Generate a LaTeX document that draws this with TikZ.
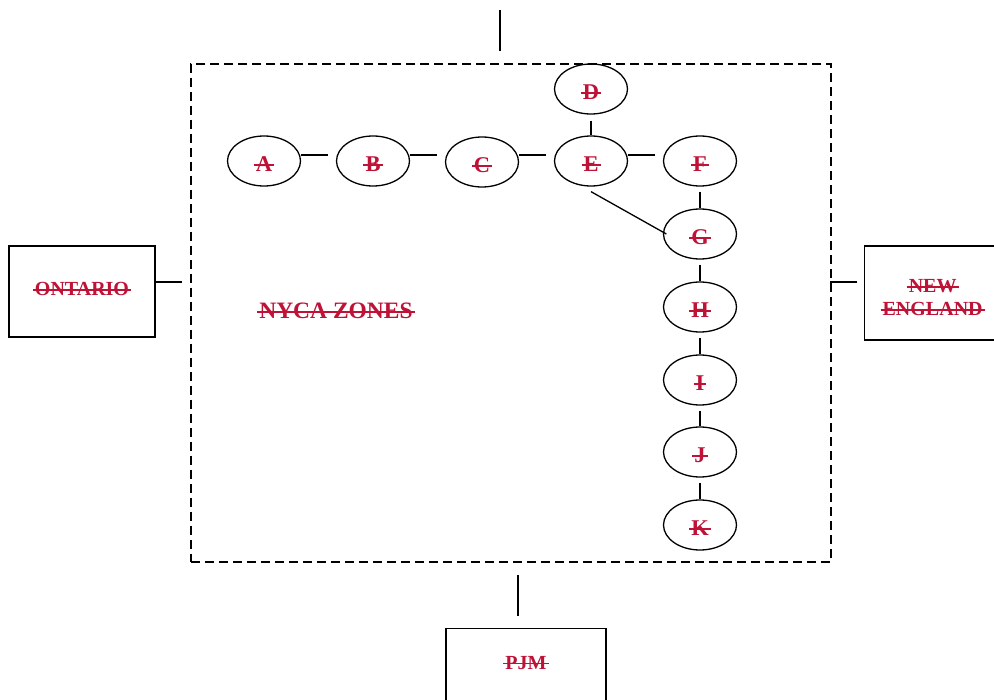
\documentclass[tikz,border=0pt]{standalone}
\usepackage{fontspec}
\setmainfont{Liberation Serif}
\usetikzlibrary{shapes.geometric}
\definecolor{zred}{RGB}{190,18,55}
\newcommand\zs[1]{{\setbox0=\hbox{#1}\hbox{\rlap{\kern-2pt\rule[0.26em]{\dimexpr\wd0+4pt\relax}{1.4pt}}\box0}}}
\tikzset{
  zone/.style={ellipse, draw, line width=1.3pt, minimum width=73pt, minimum height=50pt, inner sep=0pt,
    text height=21pt, text depth=0pt,
    font=\fontsize{22.5}{24}\selectfont\bfseries, text=zred},
  region/.style={rectangle, draw, line width=1.3pt, inner sep=0pt, font=\fontsize{20}{24}\selectfont\bfseries, text=zred, align=center},
  link/.style={line width=1.3pt},
}
\begin{document}
\begin{tikzpicture}[x=1pt,y=-1pt]
\useasboundingbox (0,0) rectangle (994,700);
\node[draw, dash pattern=on 9pt off 5pt, line width=1.3pt, minimum width=640pt, minimum height=498pt, inner sep=0pt] (nyca) at (511,313) {};
\node[font=\fontsize{23.5}{24}\selectfont\bfseries, text=zred] (label) at (336,311) {\zs{NYCA ZONES}};
% zones
\node[zone] (A) at (264,161) {\zs{A}};
\node[zone] (B) at (373,161) {\zs{B}};
\node[zone] (C) at (482,162) {\zs{C}};
\node[zone] (D) at (591,89) {\zs{D}};
\node[zone] (E) at (591,161) {\zs{E}};
\node[zone] (F) at (700,161) {\zs{F}};
\node[zone] (G) at (700,234) {\zs{G}};
\node[zone] (H) at (700,307) {\zs{H}};
\node[zone] (I) at (700,380) {\zs{I}};
\node[zone] (J) at (700,452) {\zs{J}};
\node[zone] (K) at (700,525) {\zs{K}};
% neighbours
\node[region, minimum width=146pt, minimum height=91pt, text height=13pt, text depth=4pt] (ont) at (82,291.5) {\zs{ONTARIO}};
\node[region, minimum width=136pt, minimum height=94pt, anchor=west, text height=46pt, text depth=0pt] (ne) at (864,293) {\zs{NEW}\\[-1pt]\zs{ENGLAND}};
\node[region, minimum width=160pt, minimum height=100pt, anchor=north] (pjm) at (526,628) {};
\node[font=\fontsize{20}{24}\selectfont\bfseries, text=zred] (pjmlabel) at (526,663) {\zs{PJM}};
\coordinate (top) at (500,10);
% connectors
\draw[link] ([yshift=6pt]A.east) -- ([yshift=6pt,xshift=-7.5pt]B.west);
\draw[link] ([yshift=6pt]B.east) -- ([yshift=7pt,xshift=-7.5pt]C.west);
\draw[link] ([yshift=7pt]C.east) -- ([yshift=6pt,xshift=-7.5pt]E.west);
\draw[link] ([yshift=6pt]E.east) -- ([yshift=6pt,xshift=-7.5pt]F.west);
\draw[link] ([yshift=-6pt]D.south) -- (E.north);
\draw[link] ([yshift=-5pt]E.south) -- ([xshift=3.5pt]G.west);
\draw[link] ([yshift=-5pt]F.south) -- (G.north);
\draw[link] ([yshift=-5pt]G.south) -- (H.north);
\draw[link] ([yshift=-5pt]H.south) -- (I.north);
\draw[link] ([yshift=-5pt]I.south) -- (J.north);
\draw[link] ([yshift=-5pt]J.south) -- (K.north);
\draw[link] ([yshift=9.5pt]ont.east) -- ([yshift=9.5pt,xshift=-8pt]ont.east -| nyca.west);
\draw[link] ([yshift=11pt,xshift=-7pt]ne.west) -- ([yshift=11pt,xshift=-2pt]ne.west -| nyca.east);
\draw[link] (top) -- ([yshift=12pt]top |- nyca.north);
\draw[link] ([xshift=-8pt,yshift=12pt]pjm.north) -- ([xshift=-8pt,yshift=-12pt]pjm.north |- nyca.south);
\end{tikzpicture}
\end{document}
